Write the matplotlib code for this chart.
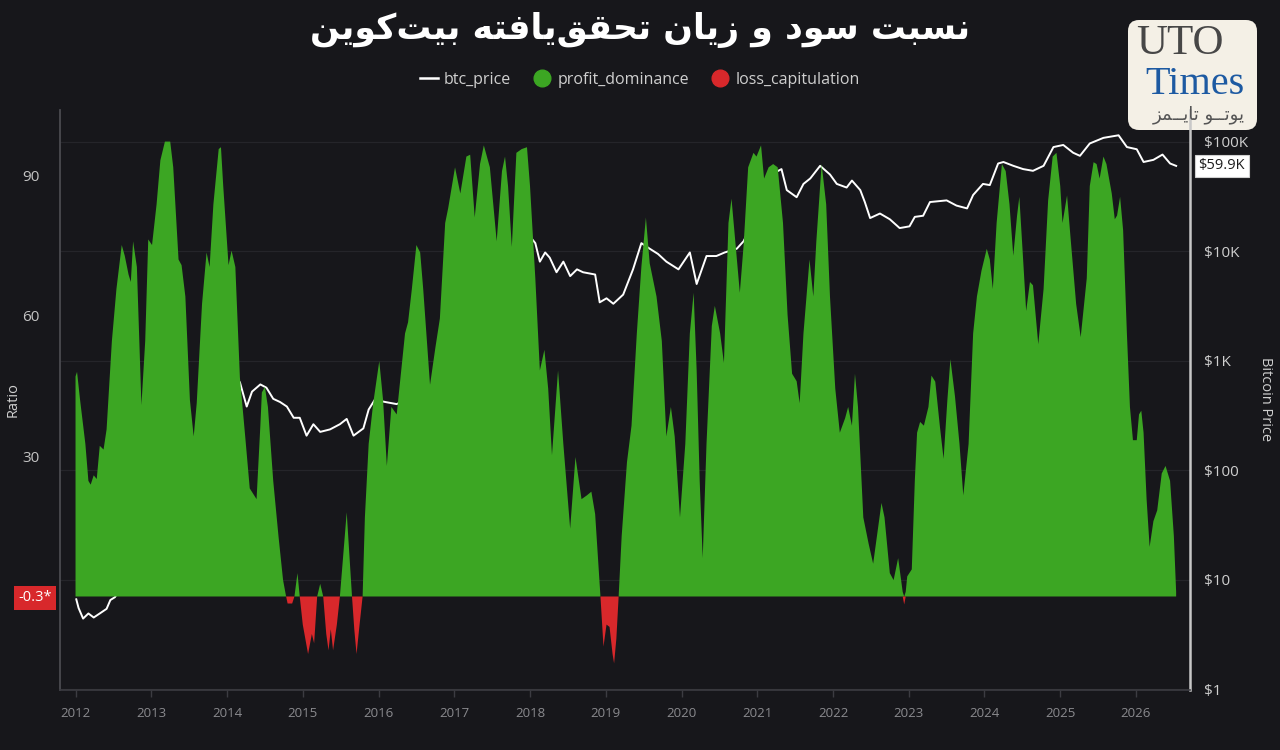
import numpy as np
import matplotlib
matplotlib.use("Agg")
import matplotlib.pyplot as plt
from matplotlib.lines import Line2D
from matplotlib.patches import FancyBboxPatch
from matplotlib.transforms import IdentityTransform

# ---------------- data ----------------
ratio_years = [
    2012.00, 2012.02, 2012.06, 2012.13, 2012.17, 2012.20, 2012.24, 2012.28, 2012.32, 2012.37,
    2012.41, 2012.48, 2012.54, 2012.61, 2012.65, 2012.70, 2012.73, 2012.76, 2012.81, 2012.87,
    2012.92, 2012.96, 2013.01, 2013.07, 2013.12, 2013.18, 2013.25, 2013.29, 2013.36, 2013.40,
    2013.45, 2013.51, 2013.56, 2013.60, 2013.67, 2013.73, 2013.77, 2013.82, 2013.89, 2013.92,
    2013.95, 2014.02, 2014.06, 2014.11, 2014.17, 2014.24, 2014.30, 2014.39, 2014.44, 2014.46,
    2014.50, 2014.54, 2014.61, 2014.68, 2014.74, 2014.78, 2014.80, 2014.86, 2014.89, 2014.93,
    2014.96, 2015.00, 2015.07, 2015.12, 2015.15, 2015.19, 2015.23, 2015.27, 2015.31, 2015.34,
    2015.37, 2015.40, 2015.45, 2015.49, 2015.58, 2015.65, 2015.68, 2015.71, 2015.75, 2015.79,
    2015.82, 2015.87, 2015.93, 2016.01, 2016.06, 2016.11, 2016.17, 2016.24, 2016.28, 2016.35,
    2016.39, 2016.44, 2016.50, 2016.55, 2016.59, 2016.68, 2016.75, 2016.81, 2016.88, 2016.92,
    2017.01, 2017.08, 2017.16, 2017.21, 2017.27, 2017.34, 2017.39, 2017.47, 2017.56, 2017.63,
    2017.67, 2017.71, 2017.76, 2017.82, 2017.89, 2017.96, 2018.00, 2018.07, 2018.13, 2018.19,
    2018.24, 2018.29, 2018.37, 2018.44, 2018.53, 2018.60, 2018.68, 2018.75, 2018.81, 2018.86,
    2018.93, 2018.97, 2019.01, 2019.05, 2019.09, 2019.11, 2019.14, 2019.17, 2019.21, 2019.28,
    2019.34, 2019.41, 2019.47, 2019.53, 2019.58, 2019.67, 2019.74, 2019.80, 2019.86, 2019.91,
    2019.98, 2020.05, 2020.11, 2020.16, 2020.20, 2020.24, 2020.28, 2020.33, 2020.40, 2020.44,
    2020.51, 2020.56, 2020.62, 2020.66, 2020.71, 2020.77, 2020.82, 2020.88, 2020.95, 2020.99,
    2021.05, 2021.09, 2021.15, 2021.21, 2021.27, 2021.34, 2021.40, 2021.46, 2021.52, 2021.56,
    2021.61, 2021.69, 2021.74, 2021.78, 2021.85, 2021.91, 2021.96, 2022.03, 2022.09, 2022.16,
    2022.20, 2022.25, 2022.29, 2022.33, 2022.40, 2022.47, 2022.53, 2022.58, 2022.64, 2022.68,
    2022.75, 2022.80, 2022.86, 2022.92, 2022.94, 2022.96, 2022.98, 2023.04, 2023.08, 2023.11,
    2023.15, 2023.20, 2023.26, 2023.30, 2023.35, 2023.41, 2023.46, 2023.51, 2023.55, 2023.61,
    2023.67, 2023.72, 2023.79, 2023.85, 2023.90, 2023.96, 2024.03, 2024.07, 2024.11, 2024.16,
    2024.23, 2024.28, 2024.33, 2024.38, 2024.43, 2024.46, 2024.51, 2024.55, 2024.60, 2024.64,
    2024.71, 2024.78, 2024.84, 2024.90, 2024.95, 2025.00, 2025.03, 2025.09, 2025.14, 2025.21,
    2025.27, 2025.35, 2025.39, 2025.44, 2025.48, 2025.52, 2025.57, 2025.61, 2025.68, 2025.72,
    2025.75, 2025.79, 2025.83, 2025.88, 2025.92, 2025.96, 2026.01, 2026.04, 2026.07, 2026.10,
    2026.14, 2026.18, 2026.23, 2026.28, 2026.34, 2026.39, 2026.45, 2026.50, 2026.53,
]
ratio_values = [
    47.0, 48.0, 42.0, 32.6, 24.7, 23.9, 25.9, 25.1, 32.2, 31.4,
    35.7, 54.6, 65.7, 75.1, 72.8, 68.8, 67.2, 75.9, 70.4, 40.9,
    54.6, 76.3, 75.1, 83.8, 93.2, 97.2, 97.2, 91.7, 72.0, 70.8,
    64.1, 42.0, 34.2, 41.3, 62.5, 73.5, 70.4, 83.8, 95.6, 96.0,
    87.7, 70.8, 73.9, 70.4, 46.8, 34.2, 23.1, 20.8, 36.5, 43.6,
    44.8, 40.5, 24.7, 12.8, 3.5, 0.0, -1.5, -1.5, 0.0, 5.0,
    0.0, -6.0, -12.3, -8.0, -10.0, 0.0, 2.7, 0.0, -8.0, -11.5,
    -7.0, -11.5, -6.0, 0.0, 18.0, 0.0, -7.0, -12.3, -6.0, 0.0,
    16.9, 32.6, 41.3, 50.3, 42.0, 27.9, 40.5, 38.9, 45.2, 56.2,
    58.6, 65.7, 75.1, 73.5, 65.7, 45.2, 53.1, 59.4, 79.8, 83.0,
    91.7, 86.1, 94.0, 94.4, 81.0, 92.4, 96.4, 91.7, 75.9, 90.9,
    94.0, 87.7, 74.7, 94.8, 95.6, 96.0, 87.7, 68.0, 48.3, 52.7,
    44.4, 30.2, 48.3, 32.6, 14.5, 29.8, 20.8, 21.6, 22.4, 17.6,
    0.0, -10.7, -6.0, -6.5, -12.3, -14.3, -9.0, 0.0, 12.9, 28.7,
    36.5, 56.2, 70.4, 81.0, 71.2, 64.1, 54.6, 34.2, 40.5, 34.2,
    16.9, 32.6, 56.2, 64.9, 48.3, 24.7, 8.2, 32.6, 57.8, 62.1,
    56.2, 49.9, 79.8, 85.0, 75.9, 64.9, 75.1, 91.7, 94.8, 94.0,
    96.4, 89.3, 91.7, 92.4, 91.7, 79.8, 60.2, 47.6, 46.0, 41.3,
    56.2, 72.0, 64.1, 75.9, 92.4, 83.8, 64.1, 44.4, 35.0, 38.1,
    40.5, 36.5, 47.6, 40.5, 16.9, 11.3, 7.0, 12.9, 20.0, 16.9,
    5.0, 3.5, 8.2, 1.0, -1.7, 1.0, 4.3, 5.8, 24.7, 35.0,
    37.3, 36.5, 40.5, 47.2, 45.9, 36.5, 29.4, 42.0, 50.7, 42.8,
    32.6, 21.6, 32.6, 56.2, 64.1, 69.6, 74.3, 72.0, 65.7, 79.8,
    92.4, 90.9, 83.8, 72.8, 81.4, 85.4, 72.0, 61.0, 67.2, 66.5,
    53.9, 65.7, 84.6, 94.0, 94.8, 87.7, 79.8, 85.7, 75.9, 62.5,
    55.4, 68.0, 87.7, 92.8, 92.4, 89.3, 94.0, 92.4, 86.1, 80.6,
    81.4, 85.4, 78.3, 56.2, 40.5, 33.4, 33.4, 38.9, 39.7, 35.0,
    20.8, 10.6, 16.1, 18.4, 26.3, 27.9, 24.7, 12.9, 1.0,
]

price_years = [
    2012.01, 2012.04, 2012.10, 2012.17, 2012.24, 2012.32, 2012.41, 2012.46, 2012.52, 2012.70,
    2012.90, 2013.10, 2013.25, 2013.40, 2013.60, 2013.80, 2013.92, 2014.05, 2014.17, 2014.26,
    2014.33, 2014.44, 2014.52, 2014.61, 2014.70, 2014.79, 2014.88, 2014.96, 2015.05, 2015.14,
    2015.23, 2015.36, 2015.49, 2015.58, 2015.67, 2015.80, 2015.87, 2015.95, 2016.09, 2016.24,
    2016.40, 2016.55, 2016.68, 2016.90, 2017.00, 2017.20, 2017.40, 2017.60, 2017.76, 2017.95,
    2018.07, 2018.13, 2018.20, 2018.26, 2018.35, 2018.44, 2018.53, 2018.62, 2018.70, 2018.86,
    2018.92, 2019.01, 2019.10, 2019.23, 2019.36, 2019.47, 2019.58, 2019.69, 2019.80, 2019.96,
    2020.11, 2020.20, 2020.33, 2020.46, 2020.57, 2020.73, 2020.82, 2020.95, 2021.05, 2021.11,
    2021.21, 2021.32, 2021.39, 2021.52, 2021.61, 2021.70, 2021.83, 2021.96, 2022.05, 2022.18,
    2022.25, 2022.36, 2022.42, 2022.49, 2022.62, 2022.75, 2022.88, 2023.01, 2023.08, 2023.19,
    2023.28, 2023.50, 2023.63, 2023.77, 2023.85, 2023.98, 2024.07, 2024.18, 2024.25, 2024.38,
    2024.51, 2024.64, 2024.78, 2024.91, 2025.04, 2025.17, 2025.26, 2025.39, 2025.57, 2025.77,
    2025.88, 2026.01, 2026.10, 2026.23, 2026.35, 2026.45, 2026.53,
]
price_values = [
    6.6, 5.5, 4.4, 4.9, 4.5, 4.9, 5.4, 6.5, 6.9, 11,
    12, 20, 100, 110, 100, 150, 900, 800, 633, 380,
    520, 605, 565, 447, 418, 380, 300, 300, 206, 262,
    223, 235, 262, 293, 206, 240, 357, 437, 418, 400,
    450, 650, 580, 750, 1000, 1100, 1800, 2700, 5000, 15000,
    11800, 8000, 9700, 8700, 6400, 8000, 5900, 6800, 6400, 6100,
    3400, 3700, 3300, 4000, 6800, 11800, 10500, 9400, 8000, 6800,
    9700, 5000, 9000, 9000, 9700, 10500, 12300, 19000, 33000, 41000,
    51000, 56000, 36000, 31000, 41000, 46000, 60000, 50000, 41000, 38000,
    44000, 36000, 28000, 20000, 22000, 19500, 16200, 16800, 20500, 21000,
    28000, 29000, 26000, 24500, 32500, 41000, 40000, 63000, 65000, 60000,
    56000, 54000, 60000, 89000, 93000, 79000, 74000, 96000, 108000, 114000,
    89000, 85000, 65000, 68000, 76000, 63000, 59900,
]

year_ticks = list(range(2012, 2027))
ratio_ticks = [30, 60, 90]
price_ticks = [1, 10, 100, 1000, 10000, 100000]
price_tick_labels = ["$1", "$10", "$100", "$1K", "$10K", "$100K"]
last_price = 59900
last_price_label = "$59.9K"
last_ratio = -0.3
last_ratio_label = "-0.3*"
series_names = ["btc_price", "profit_dominance", "loss_capitulation"]

title_text = "نسبت سود و زیان تحقق\u200cیافته بیت\u200cکوین"
logo_fa = "یوتــو تایــمز"

# ---------- minimal Persian shaping (matplotlib has no complex text layout) ----------
FORMS = {
    "ا": ("\uFE8D", "\uFE8E", None, None),
    "ب": ("\uFE8F", "\uFE90", "\uFE91", "\uFE92"),
    "ت": ("\uFE95", "\uFE96", "\uFE97", "\uFE98"),
    "ح": ("\uFEA1", "\uFEA2", "\uFEA3", "\uFEA4"),
    "د": ("\uFEA9", "\uFEAA", None, None),
    "ز": ("\uFEAF", "\uFEB0", None, None),
    "س": ("\uFEB1", "\uFEB2", "\uFEB3", "\uFEB4"),
    "ف": ("\uFED1", "\uFED2", "\uFED3", "\uFED4"),
    "ق": ("\uFED5", "\uFED6", "\uFED7", "\uFED8"),
    "م": ("\uFEE1", "\uFEE2", "\uFEE3", "\uFEE4"),
    "ن": ("\uFEE5", "\uFEE6", "\uFEE7", "\uFEE8"),
    "ه": ("\uFEE9", "\uFEEA", "\uFEEB", "\uFEEC"),
    "و": ("\uFEED", "\uFEEE", None, None),
    "ی": ("\uFBFC", "\uFBFD", "\uFBFE", "\uFBFF"),
    "ک": ("\uFB8E", "\uFB8F", "\uFB90", "\uFB91"),
}
TATWEEL = "\u0640"


def _dual(c):
    return c == TATWEEL or (c in FORMS and FORMS[c][2] is not None)


def _joins(c):
    return c == TATWEEL or c in FORMS


def shape_fa(s):
    out = []
    n = len(s)
    for i, c in enumerate(s):
        if c == "\u200c":
            continue
        if c not in FORMS:
            out.append(c)
            continue
        prev = s[i - 1] if i > 0 else ""
        nxt = s[i + 1] if i + 1 < n else ""
        jp = bool(prev) and _dual(prev)
        jn = bool(nxt) and _joins(nxt) and _dual(c)
        iso, fin, ini, med = FORMS[c]
        if jp and jn:
            out.append(med)
        elif jp:
            out.append(fin)
        elif jn:
            out.append(ini)
        else:
            out.append(iso)
    return "".join(out)[::-1]


# ---------------- styling ----------------
BG = "#17171b"
GREEN = "#3ca623"
RED = "#d8282b"
TXT = "#cfcfcf"
W, H = 1280, 750

plt.rcParams["font.family"] = ["Open Sans", "DejaVu Sans"]

fig = plt.figure(figsize=(W / 100, H / 100), dpi=100, facecolor=BG)

ax = fig.add_axes([60 / W, 60 / H, 1130 / W, 580 / H])
ax2 = ax.twinx()
ax.set_zorder(2)
ax.patch.set_visible(False)
ax2.set_zorder(1)
ax2.set_facecolor(BG)

yrs = np.array(ratio_years)
vals = np.array(ratio_values)
profit = np.clip(vals, 0, None)
loss = np.clip(vals, None, 0)
ax.fill_between(yrs, 0, profit, where=vals >= 0, interpolate=True,
                color=GREEN, linewidth=0, zorder=3)
ax.fill_between(yrs, 0, loss, where=vals <= 0, interpolate=True,
                color=RED, linewidth=0, zorder=3)

ax2.plot(price_years, price_values, color="white", lw=1.4, zorder=2,
         solid_joinstyle="round")
ax2.set_yscale("log")

ax.set_xlim(2011.795, 2026.713)
ax.set_ylim(-19.98, 103.95)
ax2.set_ylim(0.98, 194000)

# ticks
ax.set_xticks(year_ticks)
ax.set_xticklabels([str(y) for y in year_ticks])
ax.tick_params(axis="x", colors="#3c3c42", labelcolor="#8a8a8e", labelsize=9.5,
               length=5, width=1, pad=7)
ax.set_yticks(ratio_ticks)
ax.tick_params(axis="y", length=0, labelcolor="#c4c4c4", labelsize=11, pad=15)

ax2.set_yticks(price_ticks)
ax2.set_yticklabels(price_tick_labels)
ax2.yaxis.set_minor_locator(matplotlib.ticker.NullLocator())
ax2.tick_params(axis="y", length=0, labelcolor=TXT, labelsize=11, pad=10)
ax2.grid(axis="y", color="#25252a", lw=0.9)
ax2.set_axisbelow(True)

for sp in ["top", "right"]:
    ax.spines[sp].set_visible(False)
ax.spines["left"].set_color("#4a4a50")
ax.spines["left"].set_linewidth(1.3)
ax.spines["bottom"].set_color("#3c3c42")
ax.spines["bottom"].set_linewidth(1.2)
for sp in ["top", "left", "bottom"]:
    ax2.spines[sp].set_visible(False)
ax2.spines["right"].set_color("#c8c8c8")
ax2.spines["right"].set_linewidth(1.8)

# axis titles
fig.text(13 / W, 1 - 400 / H, "Ratio", rotation=90, ha="center", va="center",
         color=TXT, fontsize=10.5)
fig.text(1265 / W, 1 - 399 / H, "Bitcoin Price", rotation=270, ha="center",
         va="center", color=TXT, fontsize=10.5)

# value tags
ax.annotate(last_ratio_label, xy=(-0.0075, last_ratio),
            xycoords=("axes fraction", "data"), ha="right", va="center",
            color="white", fontsize=10.5,
            bbox=dict(boxstyle="square,pad=0.3", fc=RED, ec="none"))
ax2.annotate(last_price_label, xy=(1.0075, last_price),
             xycoords=("axes fraction", "data"), ha="left", va="center",
             color="#1c1c1c", fontsize=10.5,
             bbox=dict(boxstyle="square,pad=0.25", fc="white", ec="#d0d0d0", lw=0.8))

# title
fig.text(0.5, 1 - 30 / H, shape_fa(title_text), ha="center", va="center",
         color="white", fontsize=25, fontweight="bold", family=["DejaVu Sans"])

# legend
handles = [
    Line2D([], [], color="white", lw=1.8),
    Line2D([], [], marker="o", color=GREEN, ls="none", markersize=12),
    Line2D([], [], marker="o", color=RED, ls="none", markersize=12),
]
fig.legend(handles, series_names, loc="center", bbox_to_anchor=(0.5, 1 - 80 / H),
           ncol=3, frameon=False, fontsize=11.5, labelcolor=TXT,
           handlelength=1.1, handletextpad=0.4, columnspacing=1.4)

# logo
logo = FancyBboxPatch((1128, H - 130), 129, 110,
                      boxstyle="round,pad=0,rounding_size=11",
                      transform=IdentityTransform(), fc="#f4f0e6", ec="none")
fig.add_artist(logo)
fig.text(1180 / W, 1 - 44 / H, "UTO", ha="center", va="center", color="#474747",
         fontsize=31, family=["Liberation Serif"])
fig.text(1195 / W, 1 - 85 / H, "Times", ha="center", va="center", color="#1d5aa2",
         fontsize=29, family=["Liberation Serif"])
fig.text(1199 / W, 1 - 115 / H, shape_fa(logo_fa), ha="center", va="center",
         color="#555555", fontsize=13, family=["DejaVu Sans"])

fig.savefig("out.png", dpi=100, facecolor=BG)
